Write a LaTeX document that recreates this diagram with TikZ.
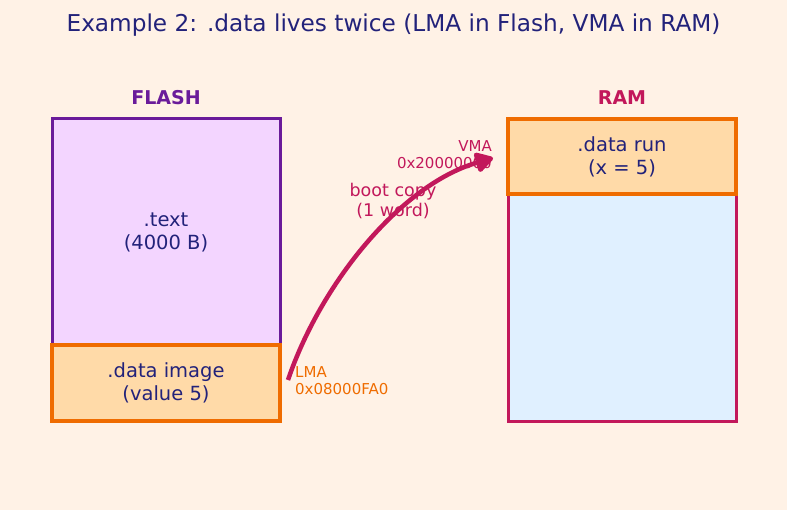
\documentclass[tikz,border=0pt]{standalone}
\usepackage{fontspec}
\setmainfont{DejaVu Sans}
\usetikzlibrary{arrows.meta,positioning}
\definecolor{bgpaper}{HTML}{FFF2E6}
\definecolor{ink}{HTML}{22227A}
\definecolor{flashedge}{HTML}{6A1B9A}
\definecolor{flashfill}{HTML}{F3D5FF}
\definecolor{dataedge}{HTML}{EF6C00}
\definecolor{datafill}{HTML}{FFDAA8}
\definecolor{ramedge}{HTML}{C2185B}
\definecolor{ramfill}{HTML}{E0F0FF}
\begin{document}
\begin{tikzpicture}[x=1pt,y=-1pt]
\tikzset{
  region/.style={draw,line width=3pt,minimum width=228pt,inner sep=0pt,align=center,text=ink,font=\fontsize{19.5}{23}\selectfont},
  memtitle/.style={font=\fontsize{19}{22}\selectfont\bfseries},
  addr/.style={font=\fontsize{15}{17}\selectfont,align=left,inner sep=0pt},
  copyarrow/.style={-{Triangle[length=20pt,width=22pt,round]},line width=4.5pt,ramedge}
}
\fill[bgpaper] (0,0) rectangle (787,510);
\node[text=ink,font=\fontsize{23.2}{27}\selectfont] (title) at (393.5,25) {Example 2: .data lives twice (LMA in Flash, VMA in RAM)};
% flash side
\node[memtitle,text=flashedge] (flashlbl) at (166,98) {FLASH};
\node[region,draw=flashedge,fill=flashfill,minimum height=226pt] (textsec) at (166,232) {.text\\(4000 B)};
\node[region,draw=dataedge,fill=datafill,line width=3.5pt,minimum height=76pt] (dataimg) at (166,383) {.data image\\(value 5)};
% ram side
\node[memtitle,text=ramedge] (ramlbl) at (622,98) {RAM};
\node[region,draw=ramedge,fill=ramfill,minimum height=302pt] (ram) at (622,270) {};
\node[region,draw=dataedge,fill=datafill,line width=3.5pt,minimum height=75pt] (datarun) at (622,156.5) {.data run\\(x = 5)};
% addresses
\coordinate (lma) at (288,380);
\coordinate (vma) at (493,158);
\node[addr,text=dataedge,anchor=north west] (lmalbl) at (295,366) {LMA\\0x08000FA0};
\node[addr,text=ramedge,anchor=north east,align=right] (vmalbl) at (492,140) {VMA\\0x20000000};
% copy
\draw[copyarrow] (lma) .. controls (320,285) and (400,185) .. (vma);
\node[text=ramedge,align=center,font=\fontsize{17.5}{20}\selectfont] (copylbl) at (393,201) {boot copy\\(1 word)};
\end{tikzpicture}
\end{document}
